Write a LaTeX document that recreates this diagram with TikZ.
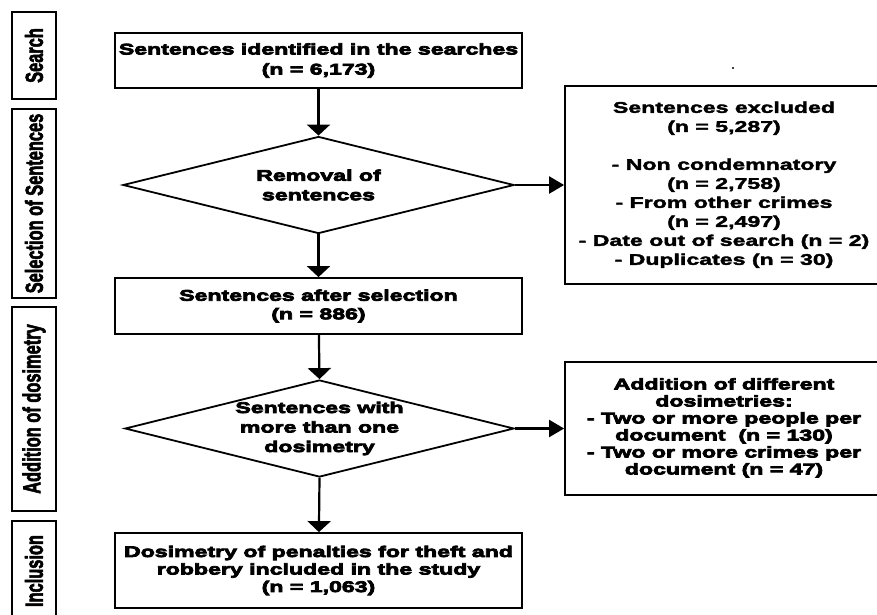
\documentclass[tikz,border=0pt]{standalone}
\usepackage{fontspec}
\usepackage{graphicx}
\usetikzlibrary{shapes.geometric,arrows.meta}
\newfontfamily\heavyf{Liberation Sans Bold}[FakeStretch=1.5,FakeBold=5]
\newfontfamily\medf{Liberation Sans Bold}[FakeStretch=1.5,FakeBold=2.5]
\newfontfamily\lblf{Liberation Sans Bold}[FakeBold=3]
\tikzset{
  box/.style={draw, line width=1.8pt, inner sep=0pt, align=center},
  dia/.style={draw, diamond, line width=1.8pt, inner sep=0pt},
  lblbox/.style={draw, line width=1.8pt, inner sep=0pt, rotate=90, font={\lblf\fontsize{16.4}{18}\selectfont}},
  heavytext/.style={font={\heavyf\fontsize{15.4}{#1}\selectfont}},
  medtext/.style={font={\medf\fontsize{15.4}{#1}\selectfont}},
  conn/.style={line width=2.2pt},
  vtip/.style={-{Triangle[length=11pt 0 0,width=23pt 0 0]}},
  htip/.style={-{Triangle[length=15pt 0 0,width=17pt 0 0]}}
}
\begin{document}
\begin{tikzpicture}[x=1pt,y=-1pt]
\useasboundingbox (0,0) rectangle (877,614);
\clip (0,0) rectangle (877,614);
% stage labels
\node[lblbox, minimum width=87pt, minimum height=44pt] (lsearch) at (34,55.5) {\scalebox{1}[1.5]{Search}};
\node[lblbox, minimum width=189pt, minimum height=44pt] (lsel) at (34,203.5) {\scalebox{1}[1.5]{Selection of Sentences}};
\node[lblbox, minimum width=204pt, minimum height=44pt] (ladd) at (34,409) {\scalebox{1}[1.5]{Addition of dosimetry}};
\node[lblbox, minimum width=100pt, minimum height=44pt] (linc) at (34,571) {\scalebox{1}[1.5]{Inclusion}};
% main flow
\node[box, heavytext=20, minimum width=407pt, minimum height=55pt] (b1) at (318.5,60.5)
  {Sentences identified in the searches\\(n = 6,173)};
\node[dia, minimum width=391pt, minimum height=97pt] (d1) at (318.5,185) {};
\node[heavytext=19.5, align=center] (d1t) at (d1.center) {Removal of\\sentences};
\node[box, heavytext=18.5, minimum width=407pt, minimum height=56pt] (b2) at (318.5,306)
  {Sentences after selection\\(n = 886)};
\node[dia, minimum width=389pt, minimum height=97pt] (d2) at (319.5,428.5) {};
\node[heavytext=19.5, align=center] (d2t) at (d2.center) {Sentences with\\more than one\\dosimetry};
\node[box, heavytext=17.5, minimum width=407pt, minimum height=75pt] (b3) at (318.5,570.5)
  {Dosimetry of penalties for theft and\\robbery included in the study\\(n = 1,063)};
% side boxes
\node[box, medtext=19, minimum width=330pt, minimum height=198pt] (ex) at (730,185)
  {\hspace*{-12pt}\begin{tabular}{@{}c@{}}Sentences excluded\\(n = 5,287)\\[19pt]- Non condemnatory\\(n = 2,758)\\- From other crimes\\(n = 2,497)\\- Date out of search (n = 2)\\- Duplicates (n = 30)\end{tabular}};
\node[box, heavytext=17, minimum width=330pt, minimum height=133pt] (ad) at (730,428.5)
  {\hspace*{-12pt}\begin{tabular}{@{}c@{}}Addition of different\\dosimetries:\\- Two or more people per\\document~~(n = 130)\\- Two or more crimes per\\document (n = 47)\end{tabular}};
% stray dot
\fill (733,68) circle (1.1pt);
% connectors
\draw[conn, vtip] (b1) -- (d1.north);
\draw[conn, vtip] (d1.south) -- (b2);
\draw[conn, vtip] (b2) -- (d2.north);
\draw[conn, vtip] (d2.south) -- (b3);
\draw[conn, htip] (d1.east) -- (ex.west |- d1.east);
\draw[conn, htip] (d2.east) -- (ad.west |- d2.east);
\end{tikzpicture}
\end{document}
